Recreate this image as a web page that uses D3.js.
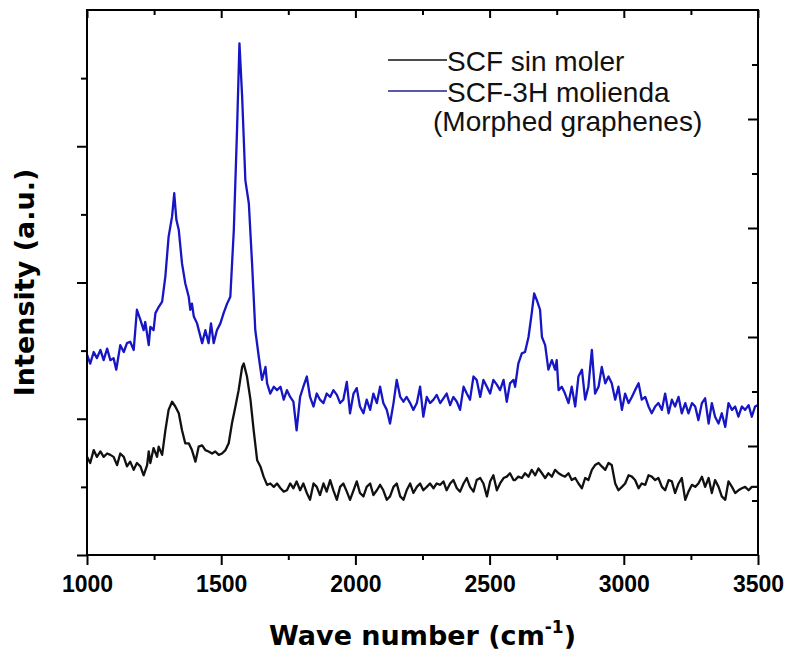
<!DOCTYPE html>
<html>
<head>
<meta charset="utf-8">
<script src="https://cdn.jsdelivr.net/npm/d3@7"></script>
<style>
  body { margin: 0; background: #fff; }
</style>
</head>
<body>
<script>
// Raman spectra: pristine SCF vs 3h-milled SCF
var W = 787;
var H = 654;
var margin = {left: 87, right: 29, top: 10, bottom: 99};

// wave numbers (cm-1) shared by both series in the 1750-2600 range
var midWave = [1757,1769,1781,1794,1806,1819,1831,1844,1856,1868,1881,1893,1906,1918,1931,1943,1955,1968,1980,1993,
  2005,2017,2030,2042,2055,2067,2080,2092,2104,2117,2129,2142,2154,2167,2179,2191,2204,2216,2229,2241,
  2253,2266,2278,2291,2303,2316,2328,2340,2353,2365,2378,2390,2403,2415,2427,2440,2452,2465,2477,2490,
  2502,2514,2527,2539,2552,2564,2576,2589];

// SCF-3H molienda (blue)
var blueWaveLow = [1000,1012,1025,1037,1050,1062,1075,1087,1099,1109,1124,1137,1149,1161,1174,
  1186,1199,1211,1217,1230,1236,1248,1255,1267,1280,1292,1304,1317,1325,1333,1342,1354,1366,1379,1385,
  1391,1398,1410,1429,1441,1453,1462,1472,1484,1497,1509,1522,1534,1547,1559,1568,1578,1590,1603,1615,
  1627,1640,1652,1665,1671,1683,1696,1708,1721,1733,1745];
var blueLow = [2.94,2.81,2.98,2.89,3.01,2.86,3.03,2.86,2.89,2.72,3.08,2.98,3.11,3.13,3.01,
  3.60,3.45,3.30,3.42,3.08,3.35,3.30,3.55,3.64,3.72,4.09,4.67,4.97,5.31,4.92,4.77,4.28,3.99,3.79,3.60,
  3.69,3.50,3.40,3.11,3.30,3.11,3.40,3.11,3.30,3.40,3.55,3.69,3.79,4.77,6.24,7.51,6.73,5.50,5.16,4.28,
  3.30,2.91,2.57,2.76,2.52,2.37,2.47,2.42,2.47,2.28,2.42];
var blueMid = [2.32,2.25,1.83,2.32,2.47,2.62,2.32,2.18,2.37,2.28,2.23,2.37,2.32,2.42,2.35,2.23,2.28,2.54,2.08,2.37,
  2.45,2.18,2.08,2.28,2.13,2.37,2.23,2.47,2.23,2.13,1.93,2.23,2.57,2.32,2.25,2.32,2.23,2.13,2.23,2.47,
  2.03,2.32,2.23,2.28,2.35,2.23,2.30,2.37,2.20,2.32,2.25,2.13,2.47,2.37,2.28,2.62,2.57,2.32,2.57,2.47,
  2.37,2.57,2.50,2.42,2.57,2.25,2.52,2.57];
var blueWaveHigh = [2595,2607,2620,2632,2645,2657,2666,2676,2688,2695,2707,2719,2732,2744,2750,
  2757,2769,2781,2794,2806,2819,2831,2844,2856,2868,2881,2893,2906,2918,2931,2943,2955,2968,2980,2993,
  3005,3018,3030,3042,3055,3067,3080,3092,3104,3117,3129,3142,3154,3167,3179,3191,3204,3216,3229,3241,
  3254,3266,3278,3291,3303,3316,3328,3340,3353,3365,3378,3390,3403,3415,3427,3440,3452,3465,3477,3489,3500];
var blueHigh = [2.47,2.81,2.96,2.98,3.20,3.55,3.84,3.74,3.60,3.20,3.08,2.72,2.86,2.72,2.86,
  2.42,2.47,2.37,2.23,2.47,2.18,2.62,2.72,2.28,2.47,3.01,2.37,2.47,2.76,2.52,2.62,2.52,2.28,2.47,2.13,
  2.37,2.23,2.32,2.42,2.52,2.28,2.32,2.18,2.08,2.18,2.23,2.13,2.37,2.08,2.28,2.18,2.32,2.08,2.23,2.08,
  2.23,2.18,1.98,2.23,2.30,1.93,2.23,2.03,1.93,2.08,1.88,2.23,2.13,2.18,2.03,2.18,2.13,2.20,2.03,2.18,2.20];

// SCF sin moler (black)
var blackWaveLow = [1000,1012,1025,1037,1050,1062,1075,1087,1099,1112,1124,1137,1149,1161,1174,1186,1199,1211,1224,
  1230,1236,1248,1261,1267,1280,1292,1304,1317,1329,1342,1354,1366,1379,1391,1404,
  1416,1429,1441,1453,1466,1478,1491,1503,1516,1528,1540,1553,1565,1578,1584,1596,1609,1621,1634,1646,
  1658,1671,1683,1696,1708,1721,1733,1745];
var blackLow = [1.44,1.35,1.54,1.44,1.52,1.44,1.49,1.47,1.44,1.32,1.49,1.44,1.30,1.37,1.25,1.35,1.30,1.17,1.32,
  1.52,1.35,1.57,1.44,1.59,1.47,1.83,2.13,2.25,2.18,2.08,1.83,1.64,1.64,1.54,1.37,
  1.59,1.61,1.54,1.52,1.49,1.52,1.47,1.49,1.54,1.64,1.93,2.18,2.42,2.76,2.81,2.62,2.28,1.83,1.39,1.30,
  1.15,1.03,1.05,1.00,1.05,0.98,0.93,0.95];
var blackMid = [1.05,0.98,1.08,0.95,1.05,0.91,0.81,1.05,1.00,0.88,1.05,0.93,1.10,0.95,0.81,1.00,1.05,0.93,0.81,0.95,
  1.08,0.91,0.86,1.00,1.05,0.88,0.95,1.03,0.95,0.81,0.86,1.00,1.05,0.86,0.81,0.95,1.05,0.91,1.00,1.05,
  0.95,1.00,1.05,0.98,1.05,1.03,1.08,0.95,1.05,1.10,0.98,0.93,1.05,1.13,1.00,0.93,1.10,1.13,1.05,0.86,
  1.08,1.17,0.95,1.05,1.13,1.15,1.20,1.10];
var blackWaveHigh = [2595,2607,2620,2632,2645,2657,2670,2682,2695,2707,2719,2732,2744,2757,2769,2781,2794,2806,2819,2831,
  2844,2856,2868,2881,2893,2906,2918,2931,2943,2955,2968,2980,2993,3005,3018,3030,3042,3055,3067,3080,
  3092,3104,3117,3129,3142,3154,3167,3179,3191,3204,3216,3229,3241,3254,3266,3278,3291,3303,3316,3328,
  3340,3353,3365,3378,3390,3403,3415,3427,3440,3452,3465,3477,3489,3500];
var blackHigh = [1.10,1.15,1.13,1.20,1.15,1.25,1.17,1.27,1.20,1.13,1.20,1.15,1.25,1.20,1.17,1.15,1.20,1.10,1.13,1.05,
  0.98,1.13,1.10,1.25,1.32,1.35,1.30,1.25,1.35,1.32,1.05,0.95,1.00,1.05,1.17,1.15,1.10,0.98,1.05,1.03,
  1.17,1.15,1.10,1.13,1.00,0.95,1.10,1.08,0.91,1.05,1.13,0.81,0.93,1.03,1.00,1.05,1.15,1.00,1.13,0.91,
  1.10,1.00,0.86,0.81,1.08,1.00,0.91,0.95,0.98,1.00,0.95,1.00,1.00,1.00];

var xMajor = [1000, 1500, 2000, 2500, 3000, 3500];
var xMinor = [1250, 1750, 2250, 2750, 3250];
var legendNames = ["SCF sin moler", "SCF-3H molienda"];
var legendNote = "(Morphed graphenes)";
var seriesColors = ["#111111", "#1616c4"];

function main() {
  var blueData = d3.zip(blueWaveLow.concat(midWave, blueWaveHigh), blueLow.concat(blueMid, blueHigh));
  var blackData = d3.zip(blackWaveLow.concat(midWave, blackWaveHigh), blackLow.concat(blackMid, blackHigh));

  var svg = d3.select("body").append("svg")
    .attr("width", W)
    .attr("height", H);

  var x0 = margin.left, x1 = W - margin.right;
  var y0 = H - margin.bottom, y1 = margin.top;

  var xScale = d3.scaleLinear().domain([1000, 3500]).range([x0, x1]);
  var yScale = d3.scaleLinear().domain([0, 8]).range([y0, y1]);
  // right axis of the original plot uses a finer tick spacing
  var yRight = d3.scaleLinear().domain([0, 10]).range([y0, y1]);

  svg.append("clipPath").attr("id", "plotClip")
    .append("rect")
    .attr("x", x0).attr("y", y1)
    .attr("width", x1 - x0).attr("height", y0 - y1);

  var line = d3.line()
    .x(function(d) { return xScale(d[0]); })
    .y(function(d) { return yScale(d[1]); });

  var curves = svg.append("g").attr("clip-path", "url(#plotClip)");
  curves.append("path").datum(blueData)
    .attr("d", line)
    .attr("fill", "none")
    .attr("stroke", seriesColors[1])
    .attr("stroke-width", 2.3)
    .attr("stroke-linejoin", "round");
  curves.append("path").datum(blackData)
    .attr("d", line)
    .attr("fill", "none")
    .attr("stroke", seriesColors[0])
    .attr("stroke-width", 2.3)
    .attr("stroke-linejoin", "round");

  // axes, domain lines removed; frame drawn separately
  function addAxis(axis, tx, ty) {
    var g = svg.append("g")
      .attr("transform", "translate(" + tx + "," + ty + ")")
      .call(axis);
    g.select(".domain").remove();
    g.selectAll(".tick line").attr("stroke", "#000").attr("stroke-width", 2);
    return g;
  }

  var bottom = addAxis(d3.axisBottom(xScale).tickValues(xMajor).tickSize(10).tickPadding(11)
    .tickFormat(d3.format("d")), 0, y0);
  bottom.selectAll("text")
    .attr("font-family", "'Liberation Sans', Arial, sans-serif")
    .attr("font-weight", "bold")
    .attr("font-size", "23px")
    .attr("fill", "#000");
  addAxis(d3.axisBottom(xScale).tickValues(xMinor).tickSize(5).tickFormat(""), 0, y0);

  addAxis(d3.axisTop(xScale).tickValues(xMajor).tickSize(-8).tickFormat(""), 0, y1);
  addAxis(d3.axisTop(xScale).tickValues(xMinor).tickSize(-5).tickFormat(""), 0, y1);

  addAxis(d3.axisLeft(yScale).tickValues([0, 2, 4, 6]).tickSize(10).tickFormat(""), x0, 0);
  addAxis(d3.axisLeft(yScale).tickValues([1, 3, 5, 7]).tickSize(6).tickFormat(""), x0, 0);

  addAxis(d3.axisRight(yRight).tickValues([2, 4, 6, 8]).tickSize(-10).tickFormat(""), x1, 0);
  addAxis(d3.axisRight(yRight).tickValues([1, 3, 5, 7, 9]).tickSize(-6).tickFormat(""), x1, 0);

  svg.append("rect")
    .attr("x", x0).attr("y", y1)
    .attr("width", x1 - x0).attr("height", y0 - y1)
    .attr("fill", "none")
    .attr("stroke", "#000")
    .attr("stroke-width", 2);

  // axis titles
  var xTitle = svg.append("text")
    .attr("x", (x0 + x1) / 2)
    .attr("y", 645)
    .attr("text-anchor", "middle")
    .attr("font-family", "'DejaVu Sans', Verdana, sans-serif")
    .attr("font-weight", "bold")
    .attr("font-size", "27px")
    .attr("fill", "#000");
  xTitle.append("tspan").text("Wave number (cm");
  xTitle.append("tspan").attr("font-size", "17px").attr("dy", -12).text("-1");
  xTitle.append("tspan").attr("dy", 12).text(")");

  svg.append("text")
    .attr("transform", "translate(34," + ((y0 + y1) / 2) + ") rotate(-90)")
    .attr("text-anchor", "middle")
    .attr("font-family", "'DejaVu Sans', Verdana, sans-serif")
    .attr("font-weight", "bold")
    .attr("font-size", "27px")
    .attr("fill", "#000")
    .text("Intensity (a.u.)");

  // legend
  var legend = svg.append("g").attr("font-family", "'Liberation Sans', Arial, sans-serif")
    .attr("font-size", "28px");
  var legendY = [60, 91];
  legendNames.forEach(function(name, i) {
    legend.append("line")
      .attr("x1", 388).attr("x2", 447)
      .attr("y1", legendY[i]).attr("y2", legendY[i])
      .attr("stroke", i == 0 ? seriesColors[0] : "#22228a")
      .attr("stroke-width", 1.6);
    legend.append("text")
      .attr("x", 447).attr("y", legendY[i] + 11)
      .attr("fill", "#111")
      .text(name);
  });
  legend.append("text")
    .attr("x", 433).attr("y", 131)
    .attr("fill", "#111")
    .text(legendNote);
}

main();
</script>
</body>
</html>
